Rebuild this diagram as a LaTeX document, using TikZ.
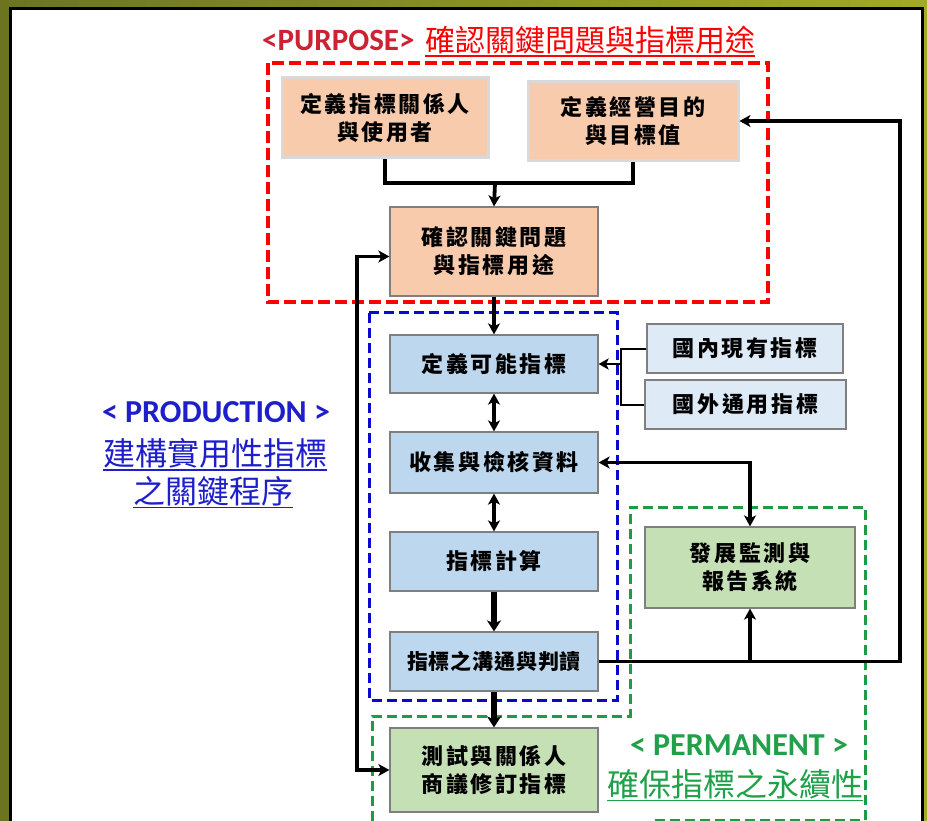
\documentclass[tikz,border=0pt]{standalone}
\usepackage{fontspec}
\setmainfont{Carlito}
\newfontfamily\cjk{Noto Sans CJK TC}
\newfontfamily\cjkb[LetterSpace=12]{Noto Sans CJK TC}
\newfontfamily\cjkc[LetterSpace=4]{Noto Sans CJK TC}
\usetikzlibrary{arrows.meta}
\definecolor{olivel}{HTML}{6C7420}
\definecolor{oliver}{HTML}{A2AA2A}
\definecolor{peach}{HTML}{F8CBAD}
\definecolor{lblue}{HTML}{BDD7EE}
\definecolor{xblue}{HTML}{DEEBF7}
\definecolor{lgreen}{HTML}{C5E0B4}
\definecolor{purpred}{HTML}{CC2233}
\definecolor{prodblue}{HTML}{1E1ECC}
\definecolor{permgreen}{HTML}{20A048}
\definecolor{dashgreen}{HTML}{1E9B45}
\definecolor{dashblue}{HTML}{0A0ACC}
\definecolor{boxedge}{HTML}{7F7F7F}
\begin{document}
\begin{tikzpicture}[x=1pt,y=-1pt,
  boxtxt/.style={font=\cjkb\bfseries\fontsize{22}{28}\selectfont, align=center, inner sep=0pt},
  peachbox/.style={boxtxt, fill=peach, draw=gray!30, line width=3pt},
  peachbox2/.style={boxtxt, fill=peach, draw=boxedge, line width=1.2pt},
  bluebox/.style={boxtxt, fill=lblue, draw=boxedge, line width=1.2pt, minimum width=208pt},
  extbox/.style={boxtxt, fill=xblue, draw=boxedge, line width=1.2pt, minimum height=49pt},
  greenbox/.style={boxtxt, fill=lgreen, draw=boxedge, line width=1.2pt},
  thk/.style={line width=3.8pt},
  arr/.style={thk, -{Stealth[length=11pt,width=12pt,inset=3pt]}},
  dbl/.style={thk, {Stealth[length=11pt,width=12pt,inset=3pt]}-{Stealth[length=11pt,width=12pt,inset=3pt]}},
  fatarr/.style={line width=5.5pt, -{Stealth[length=11pt,width=14pt,inset=3pt]}},
  thinl/.style={line width=2pt},
  thinarr/.style={line width=2pt, -{Stealth[length=10pt,width=11pt,inset=2.5pt]}},
  reddash/.style={draw=red, line width=3.8pt, dash pattern=on 12pt off 5pt},
  bluedash/.style={draw=dashblue, line width=3pt, dash pattern=on 10pt off 5pt},
  greendash/.style={draw=dashgreen, line width=3pt, dash pattern=on 10pt off 5pt},
  ttl/.style={inner sep=0pt}
]
\useasboundingbox (0,0) rectangle (927,821);
% frame
\fill[left color=olivel, right color=oliver] (0,0) rectangle (927,821);
\fill[black] (9,7) rectangle (924,821);
\fill[white] (12,10) rectangle (921,821);

% dashed regions
\draw[reddash] (268,63) rectangle (768,302);
\draw[bluedash] (369,313) rectangle (617,700);
\draw[greendash] (372,821) -- (372,716) -- (630,716) -- (630,507) -- (865,507) -- (865,820) -- (655,820);

% titles
\node[ttl, font=\bfseries\fontsize{31}{36}\selectfont, text=purpred, anchor=west] (pl) at (262,40) {<PURPOSE>};
\node[ttl, font=\cjk\fontsize{30}{36}\selectfont, text=red, anchor=west] (pc) at (425,40) {確認關鍵問題與指標用途};
\draw[red, line width=1.8pt] ([yshift=-1.5pt]pc.south west) -- ([yshift=-1.5pt]pc.south east);

\node[ttl, font=\bfseries\fontsize{32}{36}\selectfont, text=prodblue] (prl) at (216,412) {< PRODUCTION >};
\node[ttl, font=\cjk\fontsize{32}{36}\selectfont, text=prodblue] (pr1) at (215,453) {建構實用性指標};
\node[ttl, font=\cjk\fontsize{32}{36}\selectfont, text=prodblue] (pr2) at (213,491) {之關鍵程序};
\draw[prodblue, line width=1.8pt] ([yshift=-1.5pt]pr1.south west) -- ([yshift=-1.5pt]pr1.south east);
\draw[prodblue, line width=1.8pt] ([yshift=-1.5pt]pr2.south west) -- ([yshift=-1.5pt]pr2.south east);

\node[ttl, font=\bfseries\fontsize{32}{36}\selectfont, text=permgreen] (pml) at (739,745) {< PERMANENT >};
\node[ttl, font=\cjk\fontsize{32}{36}\selectfont, text=permgreen] (pm1) at (735,784) {確保指標之永續性};
\draw[permgreen, line width=1.8pt] ([yshift=-1.5pt]pm1.south west) -- ([yshift=-1.5pt]pm1.south east);

% boxes
\node[peachbox, minimum width=206pt, minimum height=80pt] (b1) at (385,118) {定義指標關係人\\與使用者};
\node[peachbox, minimum width=210pt, minimum height=79pt] (b2) at (633,121) {定義經營目的\\與目標值};
\node[peachbox2, minimum width=208pt, minimum height=89pt] (b3) at (494,251.5) {確認關鍵問題\\與指標用途};
\node[bluebox, minimum height=58pt] (b4) at (494,364) {定義可能指標};
\node[bluebox, minimum height=61pt] (b5) at (494,462.5) {收集與檢核資料};
\node[bluebox, minimum height=59pt] (b6) at (494,561.5) {指標計算};
\node[bluebox, minimum height=59pt, font=\cjkc\bfseries\fontsize{21}{28}\selectfont] (b7) at (494,661.5) {指標之溝通與判讀};
\node[greenbox, minimum width=208pt, minimum height=84pt] (b8) at (494,770) {測試與關係人\\商議修訂指標};
\node[extbox, minimum width=196pt] (e1) at (745,348.5) {國內現有指標};
\node[extbox, minimum width=201pt] (e2) at (745.5,404.5) {國外通用指標};
\node[greenbox, minimum width=210pt, minimum height=81pt] (b9) at (750,567.5) {發展監測與\\報告系統};

% connectors
\coordinate (j) at (495,183);
\draw[thk] (b1.south) -- (b1.south |- j) -- (b2.south |- j) -- (b2.south);
\draw[arr] (j) -- (b3.north);
\draw[arr] (b3.south) -- (b4.north);
\draw[dbl] (b4.south) -- (b5.north);
\draw[dbl] (b5.south) -- (b6.north);
\draw[fatarr] (b6.south) -- (b7.north);
\draw[fatarr] (b7.south) -- (b8.north);
\coordinate (lx) at (357,0);
\coordinate (b3w) at ([yshift=-5pt]b3.west);
\draw[dbl] (b3w) -- (lx |- b3w) -- (lx |- b8.west) -- (b8.west);
\coordinate (rx) at (900,0);
\draw[arr] (b7.east) -- (rx |- b7.east) -- (rx |- b2.east) -- (b2.east);
\draw[arr] (b9.south |- b7.east) -- (b9.south);
\draw[dbl] (b5.east) -- (b9.north |- b5.east) -- (b9.north);
\coordinate (bx) at (621,0);
\draw[thinl] (e1.west) -- (bx |- e1.west) -- (bx |- e2.west) -- (e2.west);
\draw[thinarr] (bx |- b4.east) -- (b4.east);
\end{tikzpicture}
\end{document}
